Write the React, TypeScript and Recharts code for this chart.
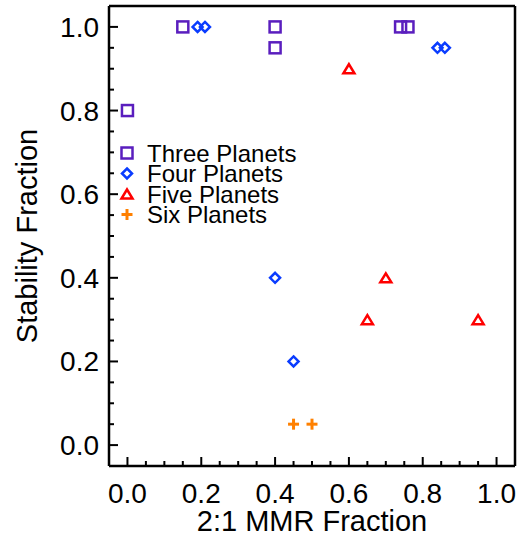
import React from "react";
import { ScatterChart, Scatter, XAxis, YAxis, Legend } from "recharts";

// points
const threePlanets = [
  { x: 0.0, y: 0.8 },
  { x: 0.15, y: 1.0 },
  { x: 0.4, y: 1.0 },
  { x: 0.4, y: 0.95 },
  { x: 0.74, y: 1.0 },
  { x: 0.76, y: 1.0 },
];
const fourPlanets = [
  { x: 0.19, y: 1.0 },
  { x: 0.21, y: 1.0 },
  { x: 0.4, y: 0.4 },
  { x: 0.45, y: 0.2 },
  { x: 0.84, y: 0.95 },
  { x: 0.86, y: 0.95 },
];
const fivePlanets = [
  { x: 0.6, y: 0.9 },
  { x: 0.65, y: 0.3 },
  { x: 0.7, y: 0.4 },
  { x: 0.95, y: 0.3 },
];
const sixPlanets = [
  { x: 0.45, y: 0.05 },
  { x: 0.5, y: 0.05 },
];

const seriesNames = ["Three Planets", "Four Planets", "Five Planets", "Six Planets"];
const seriesColors = ["#5A1EBE", "#0A3CFF", "#FF0000", "#FF8000"];

// minor ticks every 0.05, labelled ticks every 0.2
const axisTicks = Array.from({ length: 21 }, (_, i) => i * 0.05);
const DOMAIN: [number, number] = [-0.05, 1.05];
const FONT = "'Liberation Sans', Arial, Helvetica, sans-serif";

const isMajor = (v: number) => Math.abs(v * 5 - Math.round(v * 5)) < 1e-6;

const Square = ({ cx, cy, color }: any) => (
  <rect x={cx - 5.5} y={cy - 5.5} width={11} height={11} fill="none" stroke={color} strokeWidth={2.5} />
);
const Diamond = ({ cx, cy, color }: any) => (
  <polygon
    points={`${cx},${cy - 5} ${cx + 5},${cy} ${cx},${cy + 5} ${cx - 5},${cy}`}
    fill="none"
    stroke={color}
    strokeWidth={2.5}
  />
);
const Triangle = ({ cx, cy, color }: any) => (
  <polygon
    points={`${cx},${cy - 4.5} ${cx + 5.5},${cy + 4.5} ${cx - 5.5},${cy + 4.5}`}
    fill="none"
    stroke={color}
    strokeWidth={2.5}
    strokeLinejoin="miter"
  />
);
const Plus = ({ cx, cy, color }: any) => (
  <g stroke={color} strokeWidth={3}>
    <line x1={cx - 5.5} x2={cx + 5.5} y1={cy} y2={cy} />
    <line x1={cx} x2={cx} y1={cy - 5.5} y2={cy + 5.5} />
  </g>
);
const SHAPES = [Square, Diamond, Triangle, Plus];

const BottomTick = ({ x, y, payload }: any) => {
  const major = isMajor(payload.value);
  return (
    <g>
      <line x1={x} x2={x} y1={y} y2={y - (major ? 9 : 5)} stroke="#000" strokeWidth={2} />
      {major && (
        <text x={x} y={y + 37} textAnchor="middle" fontSize={28} fontFamily={FONT} fill="#000">
          {payload.value.toFixed(1)}
        </text>
      )}
    </g>
  );
};
const TopTick = ({ x, y, payload }: any) => (
  <line x1={x} x2={x} y1={y} y2={y + (isMajor(payload.value) ? 9 : 5)} stroke="#000" strokeWidth={2} />
);
const LeftTick = ({ x, y, payload }: any) => {
  const major = isMajor(payload.value);
  return (
    <g>
      <line x1={x} x2={x + (major ? 9 : 5)} y1={y} y2={y} stroke="#000" strokeWidth={2} />
      {major && (
        <text x={x - 10} y={y + 10} textAnchor="end" fontSize={28} fontFamily={FONT} fill="#000">
          {payload.value.toFixed(1)}
        </text>
      )}
    </g>
  );
};
const RightTick = ({ x, y, payload }: any) => (
  <line x1={x} x2={x - (isMajor(payload.value) ? 9 : 5)} y1={y} y2={y} stroke="#000" strokeWidth={2} />
);

const XTitle = ({ viewBox }: any) => (
  <text
    x={viewBox.x + viewBox.width / 2}
    y={viewBox.y + 65}
    textAnchor="middle"
    fontSize={29}
    fontFamily={FONT}
    fill="#000"
  >
    2:1 MMR Fraction
  </text>
);
const YTitle = ({ viewBox }: any) => {
  const x = viewBox.x + 37;
  const y = viewBox.y + viewBox.height / 2;
  return (
    <text x={x} y={y} transform={`rotate(-90, ${x}, ${y})`} textAnchor="middle" fontSize={29} fontFamily={FONT} fill="#000">
      Stability Fraction
    </text>
  );
};

const LegendBox = () => (
  <svg width={210} height={92} style={{ display: "block", overflow: "visible" }}>
    {seriesNames.map((name, i) => {
      const Shape = SHAPES[i];
      const cy = 13 + i * 20.5;
      return (
        <g key={name}>
          <Shape cx={15} cy={cy} color={seriesColors[i]} />
          <text x={35} y={cy + 8.7} fontSize={24} fontFamily={FONT} fill="#000">
            {name}
          </text>
        </g>
      );
    })}
  </svg>
);

const allSeries = [threePlanets, fourPlanets, fivePlanets, sixPlanets];

export default function App() {
  return (
    <div>
      <style>{"body{margin:0}"}</style>
      <ScatterChart width={525} height={542} margin={{ top: 5, right: 9, bottom: 0, left: 0 }}>
        <XAxis
          xAxisId="b"
          dataKey="x"
          type="number"
          domain={DOMAIN}
          ticks={axisTicks}
          interval={0}
          orientation="bottom"
          height={76}
          tickSize={0}
          tickMargin={0}
          tickLine={false}
          tick={BottomTick}
          axisLine={{ stroke: "#000", strokeWidth: 2.5 }}
          label={<XTitle />}
        />
        <XAxis
          xAxisId="t"
          dataKey="x"
          type="number"
          domain={DOMAIN}
          ticks={axisTicks}
          interval={0}
          orientation="top"
          height={1}
          tickSize={0}
          tickMargin={0}
          tickLine={false}
          tick={TopTick}
          axisLine={{ stroke: "#000", strokeWidth: 2.5 }}
        />
        <YAxis
          yAxisId="l"
          dataKey="y"
          type="number"
          domain={DOMAIN}
          ticks={axisTicks}
          interval={0}
          orientation="left"
          width={109}
          tickSize={0}
          tickMargin={0}
          tickLine={false}
          tick={LeftTick}
          axisLine={{ stroke: "#000", strokeWidth: 2.5 }}
          label={<YTitle />}
        />
        <YAxis
          yAxisId="r"
          dataKey="y"
          type="number"
          domain={DOMAIN}
          ticks={axisTicks}
          interval={0}
          orientation="right"
          width={1}
          tickSize={0}
          tickMargin={0}
          tickLine={false}
          tick={RightTick}
          axisLine={{ stroke: "#000", strokeWidth: 2.5 }}
        />
        {allSeries.map((data, i) => {
          const Shape = SHAPES[i];
          return (
            <Scatter
              key={seriesNames[i]}
              name={seriesNames[i]}
              data={data}
              xAxisId="b"
              yAxisId="l"
              isAnimationActive={false}
              shape={(p: any) => <Shape cx={p.cx} cy={p.cy} color={seriesColors[i]} />}
            />
          );
        })}
        <Legend
          layout="vertical"
          align="center"
          verticalAlign="middle"
          content={<LegendBox />}
          wrapperStyle={{ left: 112, top: 140, width: 210, height: 92 }}
        />
      </ScatterChart>
    </div>
  );
}
